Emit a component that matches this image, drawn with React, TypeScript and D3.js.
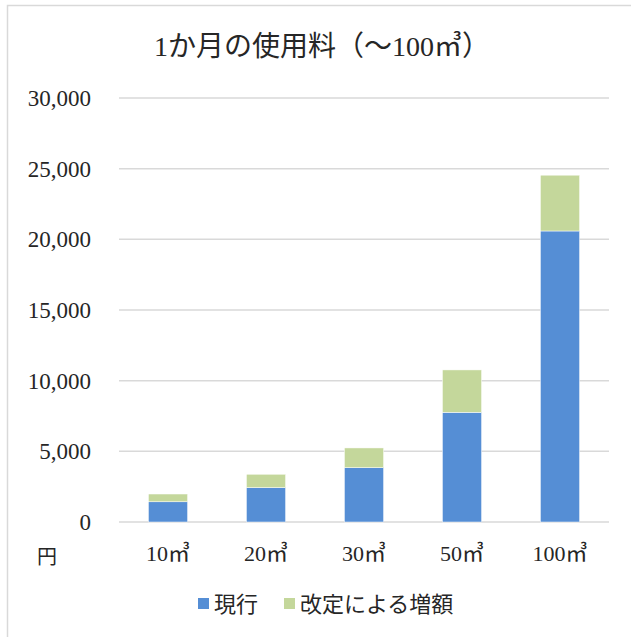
import React from "react";
import * as d3 from "d3";

const categories = ["10㎥", "20㎥", "30㎥", "50㎥", "100㎥"];
const current = [1430, 2430, 3840, 7760, 20590];
const increase = [550, 950, 1400, 3000, 3950];
const yTicks = [0, 5000, 10000, 15000, 20000, 25000, 30000];
const seriesNames = ["現行", "改定による増額"];
const colors = ["#558ed5", "#c4d79b"];

const W = 631;
const H = 637;
const FONT = "'Liberation Serif', 'Noto Sans CJK JP', serif";

export default function App() {
  const x = d3
    .scaleBand<string>()
    .domain(categories)
    .range([119, 609])
    .paddingInner(0.6)
    .paddingOuter(0.3);
  const y = d3.scaleLinear().domain([0, 30000]).range([522, 98]);
  const fmt = d3.format(",");

  return (
    <svg
      width={W}
      height={H}
      style={{ position: "absolute", left: 0, top: 0, background: "#fff" }}
      fontFamily={FONT}
    >
      <rect x={7.5} y={5.5} width={700} height={700} fill="#fff" stroke="#d9d9d9" strokeWidth={1.5} />
      <text x={322} y={56} textAnchor="middle" fontSize={28} fill="#262626">
        1か月の使用料（～100㎥）
      </text>
      {yTicks.map((t) => (
        <g key={t}>
          <line x1={119} x2={609} y1={y(t)} y2={y(t)} stroke="#d9d9d9" strokeWidth={1.5} />
          <text x={91} y={y(t)} dy="0.35em" textAnchor="end" fontSize={23} fill="#262626">
            {fmt(t)}
          </text>
        </g>
      ))}
      {categories.map((c, i) => {
        const x0 = x(c)!;
        const bw = x.bandwidth();
        const c0 = current[i];
        const c1 = current[i] + increase[i];
        return (
          <g key={c}>
            <rect x={x0} y={y(c0)} width={bw} height={y(0) - y(c0)} fill={colors[0]} stroke="#fff" strokeWidth={0.5} />
            <rect x={x0} y={y(c1)} width={bw} height={y(c0) - y(c1)} fill={colors[1]} stroke="#fff" strokeWidth={0.5} />
            <text x={x0 + bw / 2} y={561} textAnchor="middle" fontSize={22} fill="#262626">
              {c}
            </text>
          </g>
        );
      })}
      <text x={47} y={564} textAnchor="middle" fontSize={20} fill="#262626">
        円
      </text>
      <g>
        <rect x={198} y={598} width={11} height={11} fill={colors[0]} />
        <text x={214} y={612} fontSize={22} fill="#262626">
          {seriesNames[0]}
        </text>
        <rect x={284} y={598} width={11} height={11} fill={colors[1]} />
        <text x={300} y={612} fontSize={22} fill="#262626">
          {seriesNames[1]}
        </text>
      </g>
    </svg>
  );
}
